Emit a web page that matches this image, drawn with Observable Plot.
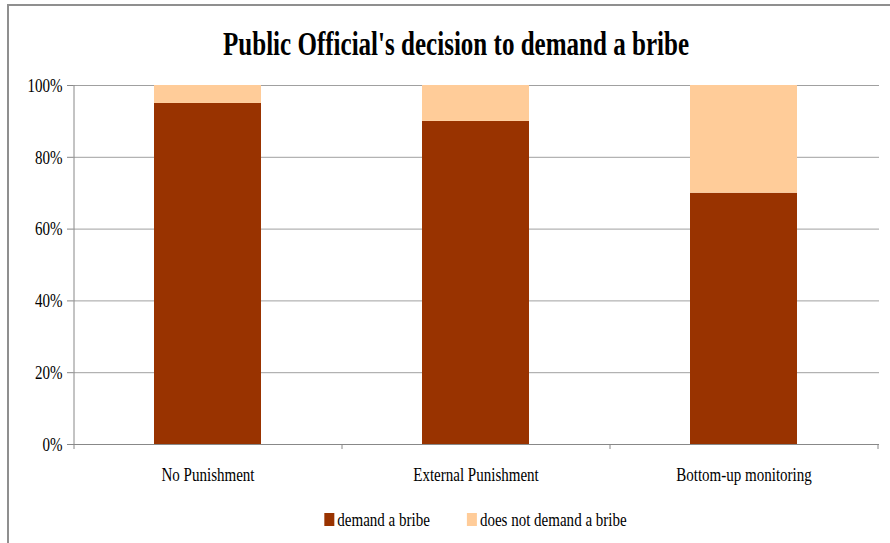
<!DOCTYPE html>
<html>
<head>
<meta charset="utf-8">
<script src="https://cdn.jsdelivr.net/npm/d3@7"></script>
<script src="https://cdn.jsdelivr.net/npm/@observablehq/plot@0.6"></script>
<style>
  html, body { margin: 0; padding: 0; background: #fff; }
  #wrap { position: relative; width: 890px; height: 543px; overflow: hidden; background: #fff; }
  #frame { position: absolute; left: 7px; top: 4px; width: 1000px; height: 1000px; border: 2px solid #8f8f8f; box-sizing: border-box; }
  #wrap svg { position: absolute; left: 0; overflow: visible; }
</style>
</head>
<body>
<div id="wrap"><div id="frame"></div></div>
<script>
const title = "Public Official's decision to demand a bribe";
const categories = ["No Punishment", "External Punishment", "Bottom-up monitoring"];
const seriesNames = ["demand a bribe", "does not demand a bribe"];
const demandBribe = [0.95, 0.90, 0.70];
const noDemandBribe = [0.05, 0.10, 0.30];
const seriesColors = ["#993300", "#FFCC99"];
const yTicks = [0, 0.2, 0.4, 0.6, 0.8, 1.0];

const rows = [];
categories.forEach((c, i) => {
  rows.push({category: c, series: seriesNames[0], value: demandBribe[i]});
  rows.push({category: c, series: seriesNames[1], value: noDemandBribe[i]});
});

const FONT = "'Liberation Serif', 'Times New Roman', serif";
const wrap = document.getElementById("wrap");

// Title
const tsvg = d3.create("svg").attr("width", 890).attr("height", 70).style("top", "0px");
tsvg.append("text")
  .attr("x", 456).attr("y", 55)
  .attr("text-anchor", "middle")
  .attr("font-family", FONT).attr("font-weight", "bold").attr("font-size", 33)
  .attr("textLength", 466).attr("lengthAdjust", "spacingAndGlyphs")
  .attr("fill", "#000")
  .text(title);
wrap.appendChild(tsvg.node());

const plot = Plot.plot({
  width: 890,
  height: 500,
  marginTop: 85,
  marginBottom: 56,
  marginLeft: 73,
  marginRight: 11,
  style: {fontFamily: FONT, fontSize: "19.5px", color: "#000", background: "transparent", overflow: "visible"},
  x: {type: "band", domain: categories, paddingInner: 0.6, paddingOuter: 0.3, align: 0.5, label: null},
  y: {domain: [0, 1], label: null},
  color: {domain: seriesNames, range: seriesColors},
  marks: [
    Plot.gridY(yTicks, {stroke: "#a0a0a0", strokeOpacity: 1, strokeWidth: 1}),
    Plot.barY(rows, {x: "category", y: "value", fill: "series", order: seriesNames}),
    Plot.axisY(yTicks, {tickFormat: d3.format(".0%"), tickSize: 6, tickPadding: 5, stroke: "#888", fill: "#000", label: null}),
    Plot.axisX({tickSize: 0, tickPadding: 23, fill: "#000", label: null}),
    Plot.ruleY([0], {stroke: "#888", strokeWidth: 1})
  ]
});
plot.style.top = "0px";
wrap.appendChild(plot);

// left axis line and category-boundary ticks from the scales
const xs = plot.scale("x");
const ys = plot.scale("y");
const gap = (xs.step - xs.bandwidth) / 2;
const bounds = categories.map(c => xs.apply(c) - gap);
bounds.push(xs.apply(categories[categories.length - 1]) + xs.bandwidth + gap);
const y0 = ys.apply(0), y1 = ys.apply(1);
const ps = d3.select(plot);
const g = ps.append("g").attr("stroke", "#888").attr("stroke-width", 1);
g.append("line").attr("x1", bounds[0] + 0.5).attr("x2", bounds[0] + 0.5).attr("y1", y1).attr("y2", y0);
bounds.forEach(b => g.append("line").attr("x1", b + 0.5).attr("x2", b + 0.5).attr("y1", y0).attr("y2", y0 + 5));

// Legend
const lsvg = d3.create("svg").attr("width", 890).attr("height", 43).style("top", "500px");
wrap.appendChild(lsvg.node());
const items = seriesNames.map((name, i) => {
  const gi = lsvg.append("g");
  gi.append("rect").attr("width", 10).attr("height", 13).attr("y", 13).attr("fill", seriesColors[i]);
  gi.append("text").attr("x", 13).attr("y", 26).attr("font-family", FONT).attr("font-size", 19.5).attr("fill", "#000").text(name);
  return gi;
});

// Condense all texts horizontally (tall narrow glyphs as in reference)
function condense(root, k) {
  root.querySelectorAll("text").forEach(t => {
    if (t.hasAttribute("textLength")) return;
    const len = t.getComputedTextLength();
    if (len > 0) {
      t.setAttribute("textLength", (len * k).toFixed(2));
      t.setAttribute("lengthAdjust", "spacingAndGlyphs");
    }
  });
}
condense(plot, 0.77);
condense(lsvg.node(), 0.77);

// position legend items centered on plot area
const widths = items.map(gi => 13 + +gi.select("text").attr("textLength"));
const itemGap = 37;
const total = widths.reduce((a, b) => a + b, 0) + itemGap * (widths.length - 1);
const center = (bounds[0] + bounds[bounds.length - 1]) / 2;
let x = center - total / 2;
items.forEach((gi, i) => { gi.attr("transform", `translate(${x},0)`); x += widths[i] + itemGap; });
</script>
</body>
</html>
